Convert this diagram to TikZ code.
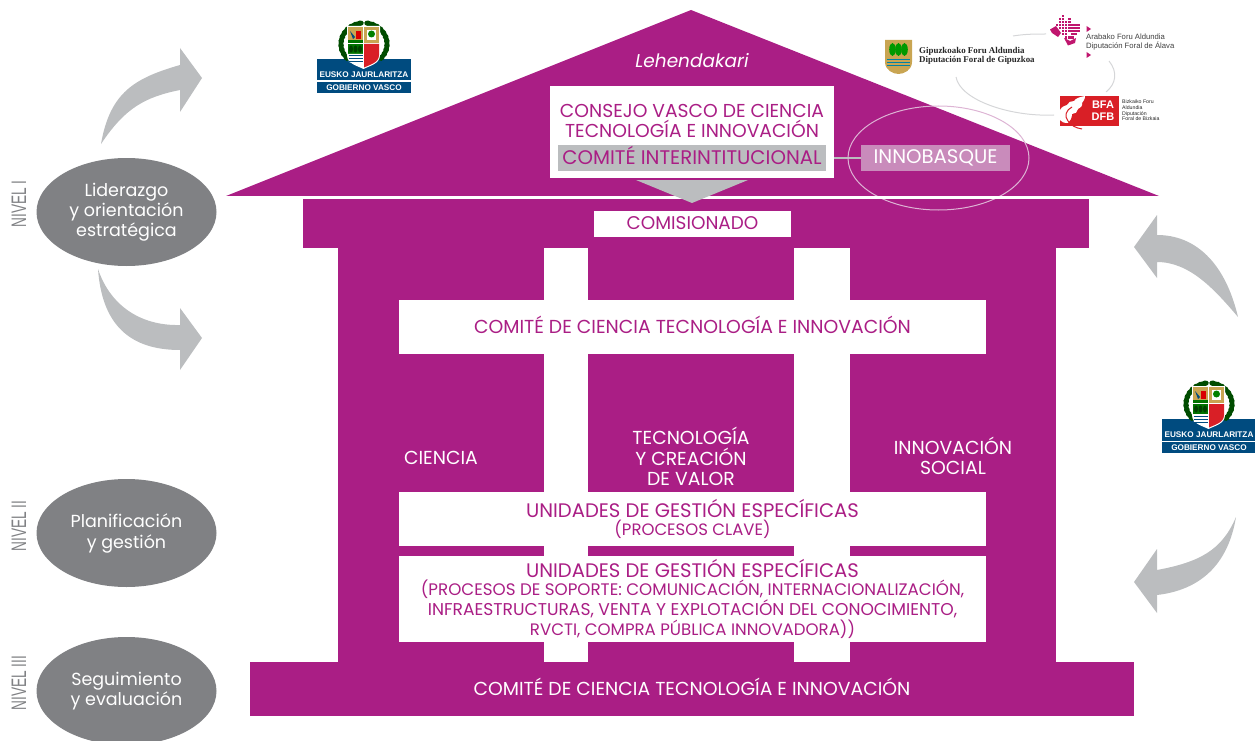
\documentclass[tikz,border=0pt]{standalone}
\usepackage{fontspec}
\usetikzlibrary{shapes.geometric}
\setmainfont{Poppins}
\newfontfamily\serifb{Liberation Serif}[BoldFont=* Bold]
\newfontfamily\arl{Liberation Sans}
\definecolor{mag}{HTML}{AA1E85}
\definecolor{lgray}{HTML}{BBBDBF}
\definecolor{dgray}{HTML}{808184}
\definecolor{ejblue}{HTML}{004B7F}
\definecolor{inno}{HTML}{C98BBB}
\definecolor{ringc}{HTML}{DDB4D4}
\definecolor{tan}{HTML}{C9A552}
\definecolor{arcg}{HTML}{D5D6D8}
\definecolor{bfared}{HTML}{D91F26}
\definecolor{aramag}{HTML}{C0166E}
\newcommand{\fs}[2]{\fontsize{#1}{#2}\selectfont}
\tikzset{
  box/.style={fill=white,inner sep=0pt,align=center,text=mag,font=\fs{18.8}{20}},
  whitetxt/.style={inner sep=0pt,align=center,text=white,font=\fs{18.8}{20.5}},
  oval/.style={ellipse,fill=dgray,inner sep=0pt,minimum width=180pt,minimum height=108pt,align=center,text=white,font=\fs{17.5}{20}},
  nivel/.style={rotate=90,inner sep=0pt,text=dgray,font=\arl\fs{21}{21}},
  bigarrow/.style={fill=lgray,draw=none},
  logoarc/.style={draw=arcg,line width=1pt}
}
\newcommand{\ejlogo}[2]{%
 \begin{scope}[shift={(#1,#2)}]
  \fill[ejblue] (0,0) rectangle (94,34);
  \fill[white] (0,21.5) rectangle (94,23);
  \node[text=white,inner sep=0pt,font=\arl\bfseries\fs{8.2}{9}] at (47,16) {EUSKO JAURLARITZA};
  \node[text=white,inner sep=0pt,font=\arl\bfseries\fs{8.2}{9}] at (47,28.5) {GOBIERNO VASCO};
  \foreach \a in {-40,-28,-16,-4,8,20,32,44,56,68,80,100,112,124,136,148,160,172,184,196,208,220} {
    \fill[green!30!black,rotate around={\a:({47+23*cos(\a)},{-15-21*sin(\a)})}] ({47+23*cos(\a)},{-15-21*sin(\a)}) ellipse (2.8 and 3.8);
  }
  \fill[white] (30,-33) -- (63,-33) -- (63,-4) .. controls (63,5) and (52,7) .. (46.5,10) .. controls (41,7) and (30,5) .. (30,-4) -- cycle;
  \fill[tan] (31,-32) rectangle (46,-16);
  \fill[green!45!black] (31,-19) rectangle (46,-16);
  \fill[red!85!black] (39,-28) rectangle (44,-20);
  \fill[ejblue] (33,-28) -- (38,-22) -- (36,-20) -- cycle;
  \fill[tan] (47,-32) rectangle (62,-16);
  \fill[white] (50,-29) rectangle (59,-19);
  \fill[green!50!black] (54.5,-25) circle (3.5);
  \fill[green!45!black] (31,-15) rectangle (46,-5);
  \foreach \x in {34,38.5,43} {\fill[green!25!black] (\x,-10) ellipse (2 and 3.6);}
  \fill[white] (31,-5) -- (46,-5) -- (46,8) -- (32,3) -- cycle;
  \foreach \y in {-3,0,3} {\draw[ejblue,line width=1pt] (31.5,\y) -- (46,\y);}
  \fill[bfared] (47,-15) -- (62,-15) -- (62,-4) .. controls (62,4) and (52,6) .. (47,8.5) -- cycle;
 \end{scope}}
\begin{document}
\begin{tikzpicture}[x=1pt,y=-1pt]
\clip (0,0) rectangle (1255,741);
% roof and temple
\fill[mag] (691,10) -- (1159,196) -- (226,196) -- cycle;
\fill[mag] (303,199) rectangle (1089,248);
\fill[mag] (338,248) rectangle (1056,662);
\fill[white] (544,248) rectangle (588,662);
\fill[white] (794,248) rectangle (850,662);
\node[box,minimum width=587pt,minimum height=54pt] (comite) at (692.5,327) {\raisebox{4.5pt}{COMITÉ DE CIENCIA TECNOLOGÍA E INNOVACIÓN}};
\node[box,minimum width=587pt,minimum height=54pt,font=\fs{19.6}{20}] (uge1) at (692.5,519) {\raisebox{1pt}{UNIDADES DE GESTIÓN ESPECÍFICAS}\\[-1.5pt]\fs{16.5}{17}\raisebox{1pt}{(PROCESOS CLAVE)}};
\node[box,minimum width=587pt,minimum height=86pt,font=\fs{19.6}{20}] (uge2) at (692.5,599) {UNIDADES DE GESTIÓN ESPECÍFICAS\\[-2pt]\fs{16.7}{19}(PROCESOS DE SOPORTE: COMUNICACIÓN, INTERNACIONALIZACIÓN,\\\fs{17.1}{19}INFRAESTRUCTURAS, VENTA Y EXPLOTACIÓN DEL CONOCIMIENTO,\\\fs{16.6}{18.5}RVCTI, COMPRA PÚBLICA INNOVADORA))};
\fill[mag] (250,662) rectangle (1134,716);
\node[whitetxt] (base) at (692,687) {COMITÉ DE CIENCIA TECNOLOGÍA E INNOVACIÓN};
\node[whitetxt] (ciencia) at (441,458) {CIENCIA};
\node[whitetxt] (tecno) at (691,456.5) {TECNOLOGÍA\\Y CREACIÓN\\DE VALOR};
\node[whitetxt] (social) at (953,456) {INNOVACIÓN\\SOCIAL};
\node[whitetxt,font=\itshape\fs{18.5}{20}] (lehen) at (692,61) {Lehendakari};
% council
\node[box,minimum width=284pt,minimum height=92pt] (consejo) at (692,132) {};
\node[inner sep=0pt,align=center,text=mag,font=\fs{18.7}{20}] (consejotxt) at (692,121) {CONSEJO VASCO DE CIENCIA\\TECNOLOGÍA E INNOVACIÓN};
\node[fill=lgray,inner sep=0pt,minimum width=268pt,minimum height=26pt,text=mag,font=\fs{19.7}{20}] (inter) at (692,158) {\raisebox{5pt}{COMITÉ INTERINTITUCIONAL}};
\node[fill=inno,inner sep=0pt,minimum width=149pt,minimum height=26pt,text=white,font=\fs{19.7}{20}] (innob) at (935.5,158) {INNOBASQUE};
\draw[lgray,line width=1.2pt] (consejo.east|-inter) -- (innob);
\node[ellipse,draw=ringc,line width=1pt,inner sep=0pt,minimum width=181pt,minimum height=104pt] (ring) at (938.5,158) {};
% white rule & down arrow
\fill[white] (226,196) rectangle (1159,199);
\fill[lgray] (636,180) -- (748,180) -- (692,203) -- cycle;
\node[box,minimum width=197pt,minimum height=26pt,font=\fs{18.4}{20}] (comis) at (692.5,224) {\raisebox{1pt}{COMISIONADO}};
% left ovals
\node[oval] (lid) at (126.5,212) {Liderazgo\\y orientación\\estratégica};
\node[oval,font=\fs{17.5}{21}] (plan) at (126.5,533) {Planificación\\y gestión};
\node[oval] (seg) at (126.5,691) {Seguimiento\\y evaluación};
\node[nivel] (n1) at (19,204) {\scalebox{0.65}[1]{NIVEL I}};
\node[nivel] (n2) at (19,526) {\scalebox{0.65}[1]{NIVEL II}};
\node[nivel] (n3) at (19,683) {\scalebox{0.65}[1]{NIVEL III}};
% curved arrows
\fill[bigarrow] (101,144) .. controls (110,92) and (135,78) .. (180,65) -- (180,48) -- (202,78) -- (180,112) -- (180,90) .. controls (145,97) and (125,108) .. cycle;
\fill[bigarrow] (98,269) .. controls (110,305) and (140,326) .. (180,325) -- (180,308) -- (202,338) -- (180,370) -- (180,350) .. controls (130,350) and (102,325) .. cycle;
\fill[bigarrow] (1238,317) .. controls (1225,262) and (1195,235) .. (1157,235) -- (1157,215) -- (1134,247) -- (1157,278) -- (1157,262) .. controls (1190,262) and (1215,290) .. cycle;
\fill[bigarrow] (1236,517) .. controls (1222,550) and (1200,562) .. (1157,570) -- (1157,549) -- (1134,582) -- (1157,613) -- (1157,595) .. controls (1200,590) and (1228,565) .. cycle;
% logos
\ejlogo{317}{59}
\ejlogo{1162}{419}
% Gipuzkoa
\fill[tan] (885,40) -- (912,40) -- (912,62) .. controls (912,70) and (904,74) .. (898.5,74) .. controls (893,74) and (885,70) .. (885,62) -- cycle;
\foreach \x in {892.5,898.5,904.5} {\fill[green!60!black] (\x,49.5) ellipse (3.3 and 6.5);}
\foreach \y in {59.5,62.5,65.5} {\draw[ejblue!70!cyan,line width=.8pt] (887,\y) -- (910,\y);}
\node[anchor=west,inner sep=0pt,align=left,text=black!85,font=\serifb\bfseries\fs{8.9}{9.2}] (gip) at (919,55.5) {Gipuzkoako Foru Aldundia\\Diputación Foral de Gipuzkoa};
% Araba
\foreach \c/\r in {4/0,3/1,4/1,6/1,3/2,4/2,5/2,6/2,2/3,3/3,4/3,5/3,6/3,7/3,8/3,9/3,3/4,4/4,5/4,6/4,7/4,8/4,9/4,4/5,5/5,6/5,7/5,8/5,9/5,4/6,5/6,7/6,8/6,5/7,6/7,7/7} {
  \fill[aramag] ({1050+\c*3.05},{15+\r*3.05}) rectangle ++(2.2,2.2);
}
\fill[aramag] (1050,29.5) -- (1056,26) -- (1061,33) -- (1058,37) -- (1052,33) -- cycle;
\fill[aramag] (1064,38) -- (1070,41) -- (1076,38) -- (1075,43) -- (1068,45.5) -- cycle;
\fill[aramag] (1086.5,26) -- (1091,29) -- (1086.5,32) -- cycle;
\fill[aramag] (1086.5,52) -- (1091,55) -- (1086.5,58) -- cycle;
\node[anchor=west,inner sep=0pt,align=left,text=black!75,font=\arl\fs{7.7}{9.8}] (ara) at (1086,42) {Arabako Foru Aldundia\\Diputación Foral de Álava};
% Bizkaia
\fill[bfared] (1060,96) rectangle (1119,126);
\fill[white] (1060,110) .. controls (1062,106) and (1065,106) .. (1067,105) .. controls (1068,102) and (1071,101) .. (1074,101) .. controls (1076,98) and (1080,97) .. (1085,96) .. controls (1085,100) and (1083,101) .. (1082,103) .. controls (1083,106) and (1080,108) .. (1078,109) .. controls (1078,112) and (1075,114) .. (1072,114) .. controls (1072,118) and (1070,121) .. (1068,123) .. controls (1064,123) and (1061,122) .. (1060,120) -- cycle;
\draw[bfared,line width=1pt] (1072,107) .. controls (1066,110) and (1064,116) .. (1068,121);
\draw[bfared,line width=1pt] (1068,121) .. controls (1071,125) and (1075,128) .. (1082,129);
\node[text=white,inner sep=0pt,align=center,font=\arl\bfseries\fs{11}{12}] (bfa) at (1103,111) {BFA\\DFB};
\node[anchor=west,inner sep=0pt,align=left,text=black!85,font=\arl\fs{5.2}{5.2}] (biz) at (1122,110.5) {Bizkaiko Foru\\Aldundia\\[1.4pt]Diputación\\Foral de Bizkaia};
% rings between logos
\draw[logoarc] (956,77) .. controls (960,100) and (1010,117) .. (1054,115);
\draw[logoarc] (1013,36) .. controls (1025,34) and (1036,34) .. (1046,34);
\draw[logoarc] (1109,61) .. controls (1118,72) and (1116,84) .. (1106,92);
\end{tikzpicture}
\end{document}
